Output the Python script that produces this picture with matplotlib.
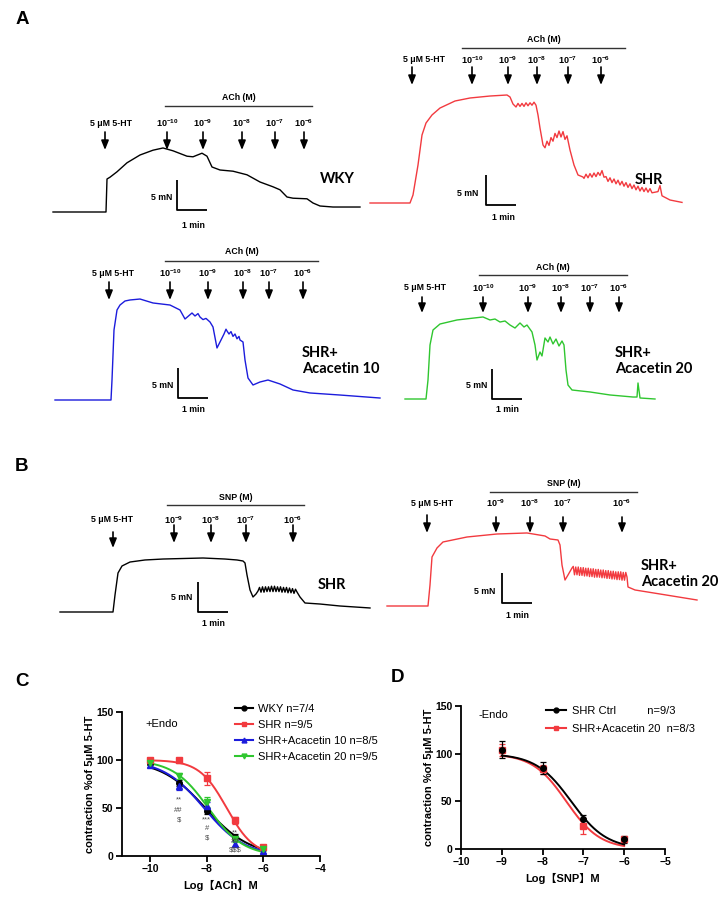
import numpy as np
import matplotlib
matplotlib.use('Agg')
import matplotlib.pyplot as plt
from matplotlib.lines import Line2D

plt.rcParams['font.family'] = ['Liberation Sans', 'Noto Sans CJK SC', 'DejaVu Sans']
plt.rcParams['mathtext.fontset'] = 'custom'
plt.rcParams['mathtext.rm'] = 'Liberation Sans'
plt.rcParams['mathtext.bf'] = 'Liberation Sans:bold'
plt.rcParams['mathtext.it'] = 'Liberation Sans:italic'

# ------------------------------------------------------------------ data
# isometric tension traces: time (s) and tension above baseline (mN)
wky_t = [0, 106, 108, 114, 128, 148, 174, 200, 220, 240, 268, 280, 298, 308, 318, 334, 360, 388,
         414, 440, 454, 468, 480, 508, 520, 534, 560, 614]
wky_T = [0, 0, 5.5, 5.8, 6.7, 8.2, 9.5, 10.3, 10.67, 10.2, 9.3, 9.2, 9.8, 9.3, 7.5, 7.0, 6.8, 6.2,
         5.0, 4.2, 3.7, 2.5, 2.3, 2.2, 1.5, 1.0, 0.83, 0.83]

shr_t = [0, 80, 86, 96, 104, 112, 124, 140, 170, 200, 240, 274, 280, 286, 292, 296, 300, 304, 308, 312,
         316, 320, 324, 328, 332, 336, 340, 346, 350, 354, 358, 362, 366, 370, 374, 378, 382, 386, 390, 394,
         400, 408, 416, 426, 428, 432, 436, 440, 444, 448, 452, 456, 460, 464, 468, 472, 476, 480, 484, 488,
         492, 496, 500, 504, 508, 512, 516, 520, 524, 528, 532, 536, 540, 544, 548, 552, 556, 560, 564, 576,
         580, 584, 600, 624]
shr_T = [0, 0, 1.33, 6.33, 11.33, 13.33, 14.67, 15.83, 17.0, 17.5, 17.83, 18.0, 17.67, 16.5, 16.0, 16.6, 16.1, 16.6, 16.1, 16.7,
         16.2, 16.7, 16.3, 16.8, 16.3, 14.67, 12.5, 9.67, 9.2, 10.3, 9.6, 10.9, 10.3, 11.6, 10.9, 12.0, 11.0, 11.9, 10.6, 11.2,
         8.83, 6.33, 4.67, 4.33, 4.1, 4.8, 4.2, 4.9, 4.3, 5.0, 4.4, 5.1, 4.6, 5.4, 4.3, 4.4, 3.6, 4.2, 3.4, 4.0,
         3.2, 3.8, 3.0, 3.6, 2.8, 3.4, 2.6, 3.2, 2.4, 3.0, 2.2, 2.8, 2.0, 2.6, 1.9, 2.5, 1.8, 2.4, 1.7, 1.9,
         2.9, 1.2, 0.5, 0.1]

a10_t = [0, 112, 114, 118, 124, 130, 140, 150, 170, 196, 230, 250, 260, 274, 280, 286, 290, 296, 302, 310,
         316, 324, 334, 338, 342, 344, 348, 352, 356, 360, 364, 368, 370, 376, 380, 386, 396, 410, 426, 450,
         476, 510, 570, 650]
a10_T = [0, 0, 3.33, 11.67, 15.0, 15.83, 16.5, 16.67, 16.83, 16.17, 15.83, 15.0, 13.5, 14.5, 14.0, 14.4, 13.83, 13.4, 13.6, 13.0,
         12.17, 8.67, 10.33, 11.0, 11.8, 11.5, 11.0, 11.4, 10.6, 11.0, 10.2, 10.6, 10.0, 9.67, 6.67, 3.67, 2.5, 3.0, 3.33, 2.67,
         1.67, 1.17, 0.83, 0.33]

a20_t = [0, 42, 46, 50, 56, 70, 104, 156, 170, 180, 190, 200, 210, 220, 230, 238, 244, 254, 260, 264,
         270, 274, 280, 286, 290, 296, 302, 308, 314, 318, 322, 326, 334, 370, 410, 456, 464, 466, 470, 500]
a20_T = [0, 0, 3.17, 9.0, 11.5, 12.5, 13.17, 13.67, 13.17, 13.33, 12.83, 13.0, 12.33, 11.83, 12.67, 12.0, 12.33, 11.17, 9.0, 6.5,
         7.83, 7.17, 10.17, 9.5, 10.33, 9.17, 10.0, 8.83, 9.67, 9.0, 4.83, 2.33, 1.5, 1.17, 0.67, 0.33, 0.33, 2.67, 0.17, 0.0]

snp_shr_t = [0, 106, 110, 116, 124, 140, 170, 206, 286, 330, 354, 366, 370, 374, 380, 386, 392, 396, 399, 402,
             405, 408, 411, 414, 417, 420, 423, 426, 429, 432, 435, 438, 441, 444, 447, 450, 453, 456, 459, 462,
             465, 468, 471, 474, 480, 490, 520, 560, 620]
snp_shr_T = [0, 0, 2.83, 6.5, 7.67, 8.33, 8.67, 8.83, 9.0, 8.83, 8.67, 8.5, 8.17, 6.17, 3.67, 2.5, 3.0, 3.5, 4.1, 3.3,
             4.2, 3.3, 4.2, 3.4, 4.2, 3.4, 4.3, 3.4, 4.3, 3.4, 4.2, 3.4, 4.2, 3.3, 4.1, 3.3, 4.1, 3.2, 4.0, 3.2,
             3.9, 3.1, 3.8, 3.33, 2.5, 1.5, 1.33, 1.0, 0.67]

snp_a20_t = [0, 82, 86, 90, 100, 112, 160, 220, 280, 316, 326, 342, 346, 350, 356, 362, 370,
             372.5, 375, 377.5, 380, 382.5, 385, 387.5, 390, 392.5, 395, 397.5, 400, 402.5, 405, 407.5, 410,
             412.5, 415, 417.5, 420, 422.5, 425, 427.5, 430, 432.5, 435, 437.5, 440, 442.5, 445, 447.5, 450,
             452.5, 455, 457.5, 460, 462.5, 465, 467.5, 470, 472.5, 475, 477.5,
             480, 482, 496, 546, 620]
snp_a20_T = [0, 0, 3.5, 8.17, 9.67, 10.67, 11.5, 12.0, 12.17, 11.67, 11.17, 11.0, 10.17, 6.83, 4.33, 5.17, 6.33,
             6.6, 5.2, 6.5, 5.2, 6.5, 5.1, 6.4, 5.1, 6.4, 5.0, 6.3, 5.0, 6.3, 4.9, 6.2, 4.9,
             6.2, 4.8, 6.1, 4.8, 6.1, 4.8, 6.0, 4.7, 6.0, 4.7, 5.9, 4.6, 5.9, 4.6, 5.8, 4.5,
             5.8, 4.5, 5.7, 4.4, 5.7, 4.4, 5.7, 4.3, 5.6, 4.3, 5.6,
             4.83, 3.17, 2.67, 2.0, 1.0]

# drug addition times (s)
wky_ht, wky_ach = 104, [228, 300, 378, 444, 502]
shr_ht, shr_ach = 84, [204, 276, 334, 396, 462]
a10_ht, a10_ach = 108, [230, 306, 376, 428, 496]
a20_ht, a20_ach = 34, [156, 246, 312, 370, 428]
snp1_ht, snp1_add = 106, [228, 302, 372, 466]
snp2_ht, snp2_add = 80, [218, 286, 352, 470]
ach_exps = [-10, -9, -8, -7, -6]
snp_exps = [-9, -8, -7, -6]

# panel C: ACh concentration-response (+Endo)
logACh = [-10, -9, -8, -7, -6]
wky_mean = [97, 76, 47, 20, 8];   wky_sem = [2, 3, 3, 3, 2]
shr_mean = [100, 99.5, 81, 37, 9]; shr_sem = [2, 3, 7, 4, 2]
ac10_mean = [95, 73, 52, 13, 5];  ac10_sem = [2, 4, 4, 3, 2]
ac20_mean = [97, 83, 56, 18, 7];  ac20_sem = [2, 3, 5, 3, 2]
# fitted curves: top, bottom, logEC50, hill slope
wky_fit = [100, 0, -8.05, 0.55]
shr_fit = [100, 0, -7.30, 0.90]
ac10_fit = [100, 0, -8.10, 0.60]
ac20_fit = [100, 0, -7.95, 0.70]

# panel D: SNP concentration-response (-Endo)
logSNP = [-9, -8, -7, -6]
ctrl_mean = [104, 85, 31, 10];   ctrl_sem = [9, 6, 5, 4]
snpac_mean = [104, 83.5, 24, 10]; snpac_sem = [6, 5, 8, 3]
ctrl_fit = [100, 0, -7.30, 1.00]
snpac_fit = [100, 0, -7.42, 1.05]

# ------------------------------------------------------------------ figure
W, H = 722, 900
PX_S, PX_MN = 0.5, 6.0
fig = plt.figure(figsize=(W / 100, H / 100), dpi=100)

RED = '#f23a3f'
BLUE = '#1c1cdc'
GREEN = '#2fc62f'
ARROW = dict(arrowstyle='-|>,head_length=0.55,head_width=0.22', lw=1.2, color='black',
             shrinkA=0, shrinkB=0, mutation_scale=10)
NAMEFONT = dict(family=['Lato', 'Liberation Sans'], fontweight='bold', fontsize=10.5)


def trace_panel(x0, y0):
    ax = fig.add_axes([0, 0, 1, 1])
    ax.set_xlim(-x0 / PX_S, (W - x0) / PX_S)
    ax.set_ylim(-(H - y0) / PX_MN, y0 / PX_MN)
    ax.axis('off')
    fx = lambda xp: (xp - x0) / PX_S
    fy = lambda yp: (y0 - yp) / PX_MN
    return ax, fx, fy


def draw_trace(x0, y0, t, T, color, ht, adds, exps, drug, bar, drug_y, lbl_y, ht_arr, add_arr,
               ht_lbl_x, name, name_xy, sb, mn_xy, min_xy):
    ax, fx, fy = trace_panel(x0, y0)
    ax.plot(t, T, color=color, lw=1.0, solid_joinstyle='round')
    # 5-HT
    ax.annotate('', xy=(ht, fy(ht_arr[1])), xytext=(ht, fy(ht_arr[0])), arrowprops=ARROW)
    ax.text(fx(ht_lbl_x), fy(lbl_y), '5 \u03bcM 5-HT', ha='center', va='center',
            fontsize=6.3, fontweight='bold')
    # agonist doses
    for ta, e in zip(adds, exps):
        ax.annotate('', xy=(ta, fy(add_arr[1])), xytext=(ta, fy(add_arr[0])), arrowprops=ARROW)
        ax.text(ta, fy(lbl_y), r'$\mathbf{10^{%d}}$' % e, ha='center', va='center', fontsize=6.5)
    ax.plot([fx(bar[0]), fx(bar[1])], [fy(drug_y[1])] * 2, color='#333333', lw=1.0)
    ax.text(fx((bar[0] + bar[1]) / 2), fy(drug_y[0]), drug, ha='center', va='center',
            fontsize=6.3, fontweight='bold')
    ax.text(fx(name_xy[0]), fy(name_xy[1]), name, ha='left', va='center', linespacing=1.25, **NAMEFONT)
    # scale bar 5 mN / 1 min
    ct, cT = fx(sb[0]), fy(sb[1])
    ax.plot([ct, ct, ct + 60], [cT + 5, cT, cT], color='black', lw=1.3, solid_capstyle='butt')
    ax.text(fx(mn_xy[0]), fy(mn_xy[1]), '5 mN', ha='right', va='center', fontsize=6.3, fontweight='bold')
    ax.text(fx(min_xy[0]), fy(min_xy[1]), '1 min', ha='center', va='center', fontsize=6.3, fontweight='bold')


draw_trace(53, 212, wky_t, wky_T, 'black', wky_ht, wky_ach, ach_exps, 'ACh (M)', (165, 312), (98, 106),
           123, (132, 150), (132, 150), 111, 'WKY', (320, 179), (177, 210), (172, 198), (193, 225))
draw_trace(370, 203, shr_t, shr_T, RED, shr_ht, shr_ach, ach_exps, 'ACh (M)', (462, 625), (39, 48),
           60, (67, 85), (67, 85), 424, 'SHR', (635, 180), (486, 205), (478, 193), (503, 218))
draw_trace(55, 400, a10_t, a10_T, BLUE, a10_ht, a10_ach, ach_exps, 'ACh (M)', (165, 318), (252, 261),
           273, (282, 300), (282, 300), 113, 'SHR+\nAcacetin 10', (302, 361), (178, 398), (173, 385), (193, 410))
draw_trace(405, 399, a20_t, a20_T, GREEN, a20_ht, a20_ach, ach_exps, 'ACh (M)', (479, 627), (267, 275),
           288, (297, 313), (297, 313), 425, 'SHR+\nAcacetin 20', (615, 361), (492, 399), (487, 385), (507, 410))
draw_trace(60, 612, snp_shr_t, snp_shr_T, 'black', snp1_ht, snp1_add, snp_exps, 'SNP (M)', (167, 304), (497, 505),
           520, (532, 548), (525, 543), 112, 'SHR', (318, 585), (198, 612), (192, 597), (213, 623))
draw_trace(387, 606, snp_a20_t, snp_a20_T, RED, snp2_ht, snp2_add, snp_exps, 'SNP (M)', (490, 637), (483, 492),
           503, (515, 533), (517, 533), 432, 'SHR+\nAcacetin 20', (641, 574), (502, 603), (495, 591), (517, 615))

# panel letters
for letter, (xp, yp) in zip('ABCD', [(22, 20), (22, 467), (22, 682), (397, 677)]):
    fig.text(xp / W, 1 - yp / H, letter, ha='center', va='center', fontsize=13.5, fontweight='bold')


def hill(x, p):
    top, bottom, ec, h = p
    return bottom + (top - bottom) / (1 + 10 ** ((np.asarray(x) - ec) * h))


def style_axes(ax):
    for s in ('top', 'right'):
        ax.spines[s].set_visible(False)
    for s in ('left', 'bottom'):
        ax.spines[s].set_linewidth(1.3)
    ax.tick_params(width=1.3, length=4, labelsize=7.5, pad=2)
    for lab in ax.get_xticklabels() + ax.get_yticklabels():
        lab.set_fontweight('bold')


# ------------------------------------------------------------------ panel C
axc = fig.add_axes([122 / W, 1 - 856 / H, 198 / W, 144 / H])
xc = np.linspace(-10, -6, 200)
series_c = [(wky_mean, wky_sem, wky_fit, 'black', 'o', 'WKY n=7/4'),
            (shr_mean, shr_sem, shr_fit, RED, 's', 'SHR n=9/5'),
            (ac10_mean, ac10_sem, ac10_fit, BLUE, '^', 'SHR+Acacetin 10 n=8/5'),
            (ac20_mean, ac20_sem, ac20_fit, GREEN, 'v', 'SHR+Acacetin 20 n=9/5')]
handles = []
for mean, sem, fit, c, m, lab in series_c:
    axc.plot(xc, hill(xc, fit), color=c, lw=1.4)
    axc.errorbar(logACh, mean, yerr=sem, fmt=m, color=c, ms=4, capsize=2, elinewidth=0.9, capthick=0.9)
    handles.append(Line2D([], [], color=c, marker=m, ms=3.5, lw=1.5, label=lab))
axc.set_xlim(-11, -4)
axc.set_ylim(0, 150)
axc.set_xticks([-10, -8, -6, -4])
axc.set_yticks([0, 50, 100, 150])
style_axes(axc)
axc.set_xlabel('Log\u3010ACh\u3011M', fontsize=8, fontweight='bold', labelpad=4)
axc.set_ylabel('contraction %of 5\u03bcM 5-HT', fontsize=8, fontweight='bold', labelpad=1)
axc.text(-9.6, 138, '+Endo', fontsize=8, ha='center', va='center')
fig.legend(handles=handles, loc='upper left', bbox_to_anchor=(235 / W, 1 - 704 / H), frameon=False,
           fontsize=8, handlelength=1.6, handletextpad=0.5, labelspacing=0.55, borderpad=0, borderaxespad=0)
sig = [(-9, 58, '**'), (-9, 47, '##'), (-9, 38, '$'),
       (-8, 38, '***'), (-8, 29, '#'), (-8, 19, '$'),
       (-7, 24, '**'), (-7, 15.5, '##'), (-7, 6, '$$$')]
for xs, ys, s in sig:
    axc.text(xs, ys, s, ha='center', va='center', fontsize=5.5, color='#4a4a4a')

# ------------------------------------------------------------------ panel D
axd = fig.add_axes([461 / W, 1 - 849 / H, 204 / W, 143 / H])
xd = np.linspace(-9, -6, 200)
for mean, sem, fit, c, m in [(snpac_mean, snpac_sem, snpac_fit, RED, 's'),
                             (ctrl_mean, ctrl_sem, ctrl_fit, 'black', 'o')]:
    axd.plot(xd, hill(xd, fit), color=c, lw=1.4)
    axd.errorbar(logSNP, mean, yerr=sem, fmt=m, color=c, ms=4, capsize=2, elinewidth=0.9, capthick=0.9)
axd.set_xlim(-10, -5)
axd.set_ylim(0, 150)
axd.set_xticks([-10, -9, -8, -7, -6, -5])
axd.set_yticks([0, 50, 100, 150])
style_axes(axd)
axd.set_xlabel('Log\u3010SNP\u3011M', fontsize=8, fontweight='bold', labelpad=4)
axd.set_ylabel('contraction %of 5\u03bcM 5-HT', fontsize=8, fontweight='bold', labelpad=1)
axd.text(-9.2, 141, '-Endo', fontsize=8, ha='center', va='center')
hd = [Line2D([], [], color='black', marker='o', ms=3.5, lw=1.5, label='SHR Ctrl          n=9/3'),
      Line2D([], [], color=RED, marker='s', ms=3.5, lw=1.5, label='SHR+Acacetin 20  n=8/3')]
fig.legend(handles=hd, loc='upper left', bbox_to_anchor=(546 / W, 1 - 706 / H), frameon=False,
           fontsize=8, handlelength=1.8, handletextpad=0.5, labelspacing=0.7, borderpad=0, borderaxespad=0)

fig.savefig('out.png', dpi=100)
